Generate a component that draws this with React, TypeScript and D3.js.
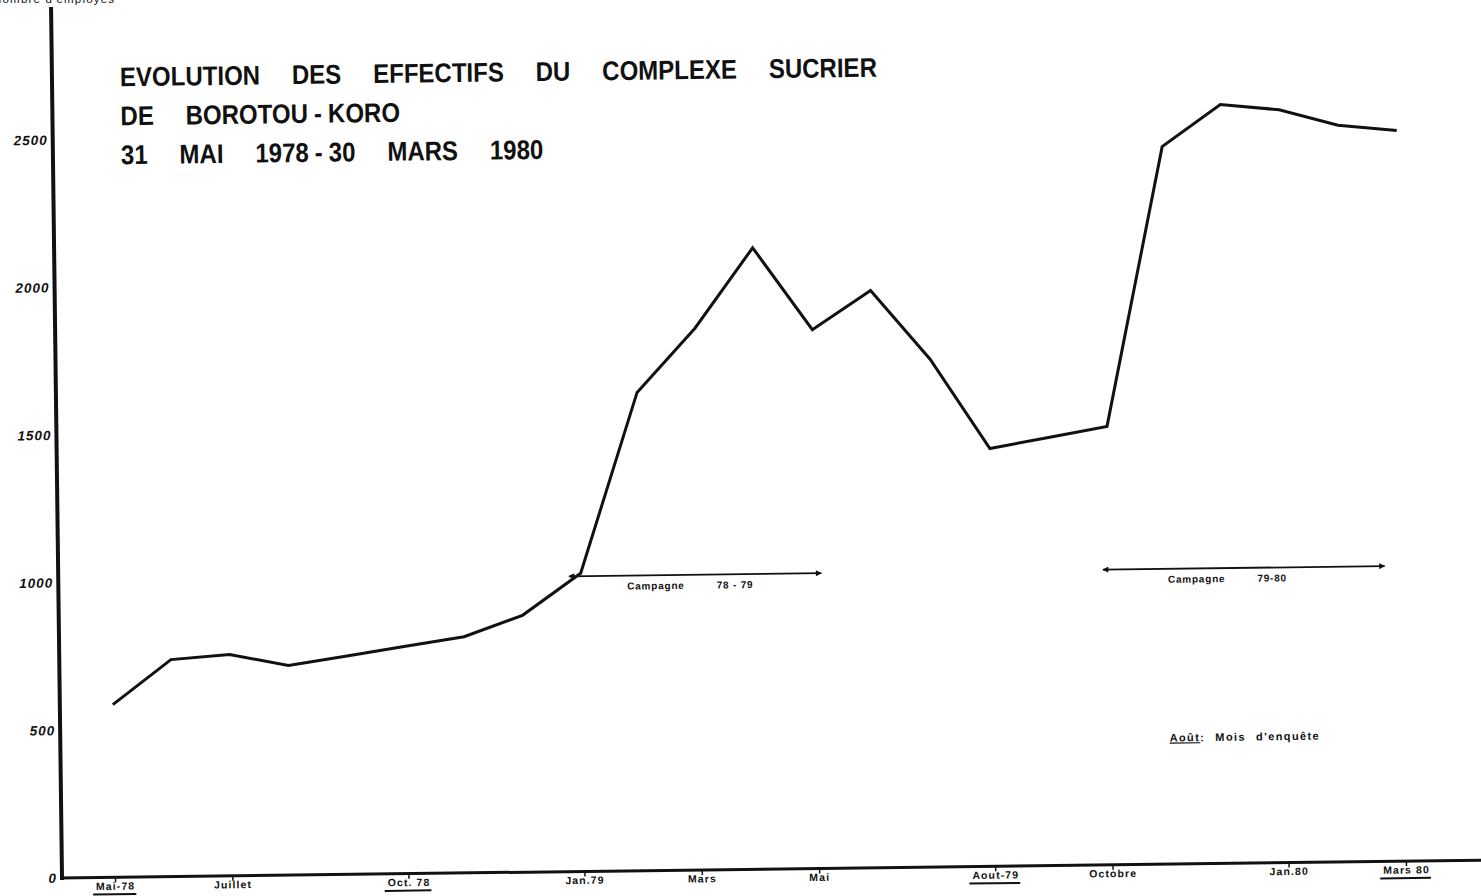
import React, { useEffect, useRef } from "react";
import * as d3 from "d3";

// monthly staff counts, end of May 1978 -> end of March 1980
const monthKeys = [
  "1978-05", "1978-06", "1978-07", "1978-08", "1978-09", "1978-10", "1978-11", "1978-12",
  "1979-01", "1979-02", "1979-03", "1979-04", "1979-05", "1979-06", "1979-07", "1979-08",
  "1979-09", "1979-10", "1979-11", "1979-12", "1980-01", "1980-02", "1980-03",
];
const employees = [
  585, 735, 750, 710, 740, 770, 800, 870, 1010, 1620, 1835, 2105, 1825, 1955, 1720, 1415,
  1450, 1485, 2430, 2570, 2550, 2495, 2475,
];

const yTicks = [0, 500, 1000, 1500, 2000, 2500];
const tickMonths = [
  "1978-05", "1978-07", "1978-10", "1979-01", "1979-03",
  "1979-05", "1979-08", "1979-10", "1980-01", "1980-03",
];
const tickLabels = [
  "Mai-78", "Juillet", "Oct. 78", "Jan.79", "Mars",
  "Mai", "Aout-79", "Octobre", "Jan.80", "Mars 80",
];
const underlinedLabels = ["Mai-78", "Oct. 78", "Aout-79", "Mars 80"];

// fixed-width spaces around the dashes so only real word gaps get stretched
const titleLines = [
  "EVOLUTION DES EFFECTIFS DU COMPLEXE SUCRIER",
  "DE BOROTOU\u2005-\u2005KORO",
  "31 MAI 1978\u2005-\u200530 MARS 1980",
];

// campaign arrows (in months from May 78) and their level
const campaignYears = ["78 - 79", "79-80"];
const campaignFrom = [7.8, 16.9];
const campaignTo = [12.1, 21.7];
const campaignLevel = 1000;

const width = 1481,
  height = 896;
const origin = { x: 62, y: 878 };
const tilt = -0.72; // the scan is slightly turned
const titleWidth = 757;
const titleSqueeze = 0.89;
const ink = "#111";

export default function App() {
  const ref = useRef<SVGGElement>(null);

  useEffect(() => {
    const g = d3.select(ref.current);
    g.selectAll("*").remove();

    const x = d3.scalePoint<string>().domain(monthKeys).range([115, 1406]);
    const xAt = (f: number) => (x(monthKeys[0]) as number) + f * x.step();
    const y = d3.scaleLinear().domain([0, 2950]).range([origin.y, 7]);

    // Y axis
    const yAxis = g
      .append("g")
      .attr("transform", `translate(${origin.x},0)`)
      .call(d3.axisLeft(y).tickValues(yTicks).tickSize(0).tickPadding(5).tickFormat((d) => String(d)));
    yAxis.select(".domain").remove();
    yAxis
      .selectAll("text")
      .attr("font-family", "Liberation Sans")
      .attr("font-weight", "bold")
      .attr("font-style", "italic")
      .attr("font-size", 13.5)
      .attr("letter-spacing", 1)
      .attr("fill", ink);
    g.append("line")
      .attr("x1", origin.x)
      .attr("x2", origin.x)
      .attr("y1", y(0) + 2)
      .attr("y2", y(2950))
      .attr("stroke", ink)
      .attr("stroke-width", 4);

    // X axis
    const xAxis = g
      .append("g")
      .attr("transform", `translate(0,${origin.y})`)
      .call(
        d3
          .axisBottom(x)
          .tickValues(tickMonths)
          .tickSize(5)
          .tickPadding(0)
          .tickFormat((d) => tickLabels[tickMonths.indexOf(d)])
      );
    xAxis.select(".domain").remove();
    xAxis.selectAll("line").attr("stroke", ink).attr("stroke-width", 1.5);
    xAxis
      .selectAll<SVGTextElement, string>("text")
      .attr("font-family", "Liberation Sans")
      .attr("font-weight", "bold")
      .attr("font-size", 10.5)
      .attr("letter-spacing", 1.1)
      .attr("fill", ink)
      .each(function () {
        const t = d3.select(this);
        if (!underlinedLabels.includes(t.text())) return;
        const w = this.getComputedTextLength();
        d3.select(this.parentNode as SVGGElement)
          .append("line")
          .attr("x1", -w / 2 - 3)
          .attr("x2", w / 2 + 1)
          .attr("y1", 17)
          .attr("y2", 17)
          .attr("stroke", ink)
          .attr("stroke-width", 2);
      });
    g.append("line")
      .attr("x1", origin.x - 2)
      .attr("x2", width + 20)
      .attr("y1", origin.y)
      .attr("y2", origin.y)
      .attr("stroke", ink)
      .attr("stroke-width", 3);

    // staff line
    g.append("path")
      .datum(employees)
      .attr("fill", "none")
      .attr("stroke", ink)
      .attr("stroke-width", 3)
      .attr("stroke-linejoin", "miter")
      .attr(
        "d",
        d3
          .line<number>()
          .x((_, i) => x(monthKeys[i]) as number)
          .y((d) => y(d))
      );

    // title, narrow lettering; word gaps set from the first line's width
    let wordSpacing = 0;
    titleLines.forEach((line, i) => {
      const t = g
        .append("text")
        .attr("transform", `translate(130,${87 + i * 39}) scale(${titleSqueeze},1)`)
        .attr("font-family", "Liberation Sans")
        .attr("font-weight", "bold")
        .attr("font-size", 27)
        .attr("fill", ink)
        .text(line);
      if (i === 0) {
        const node = t.node() as SVGTextElement;
        const gaps = line.split(" ").length - 1;
        wordSpacing = Math.max(0, (titleWidth / titleSqueeze - node.getComputedTextLength()) / gaps);
      }
      t.attr("word-spacing", wordSpacing);
    });

    // campaign arrows
    const defs = g.append("defs");
    defs
      .append("marker")
      .attr("id", "head")
      .attr("viewBox", "0 0 10 10")
      .attr("refX", 9)
      .attr("refY", 5)
      .attr("markerWidth", 11)
      .attr("markerHeight", 6)
      .attr("markerUnits", "userSpaceOnUse")
      .attr("orient", "auto-start-reverse")
      .append("path")
      .attr("d", "M0,0L10,5L0,10Z")
      .attr("fill", ink);

    campaignYears.forEach((yrs, i) => {
      const x0 = xAt(campaignFrom[i]);
      const x1 = xAt(campaignTo[i]);
      g.append("line")
        .attr("x1", x0)
        .attr("x2", x1)
        .attr("y1", y(campaignLevel))
        .attr("y2", y(campaignLevel))
        .attr("stroke", ink)
        .attr("stroke-width", 1.8)
        .attr("marker-start", "url(#head)")
        .attr("marker-end", "url(#head)");
      const t = g
        .append("text")
        .attr("x", x0 + (x1 - x0) * 0.23)
        .attr("y", y(campaignLevel) + 14)
        .attr("font-family", "Liberation Sans")
        .attr("font-weight", "bold")
        .attr("font-size", 10)
        .attr("letter-spacing", 0.8)
        .attr("fill", ink);
      t.append("tspan").text("Campagne");
      t.append("tspan").attr("dx", 32).text(yrs);
    });

    // note
    const note = g
      .append("text")
      .attr("x", xAt(18))
      .attr("y", y(415))
      .attr("font-family", "Liberation Sans")
      .attr("font-weight", "bold")
      .attr("font-size", 11)
      .attr("letter-spacing", 1.4)
      .attr("fill", ink);
    note.append("tspan").attr("text-decoration", "underline").text("Août");
    note.append("tspan").text(":");
    note.append("tspan").attr("dx", 10).text("Mois");
    note.append("tspan").attr("dx", 10).text("d'enquête");
  }, []);

  return (
    <svg
      width={width}
      height={height}
      style={{ position: "absolute", left: 0, top: 0, background: "#fff" }}
    >
      <text x={-7} y={3} fontFamily="Liberation Sans" fontSize={11.5} letterSpacing={1.2} fill={ink}>
        Nombre d'employés
      </text>
      <g ref={ref} transform={`rotate(${tilt}, ${origin.x}, ${origin.y})`} />
    </svg>
  );
}
